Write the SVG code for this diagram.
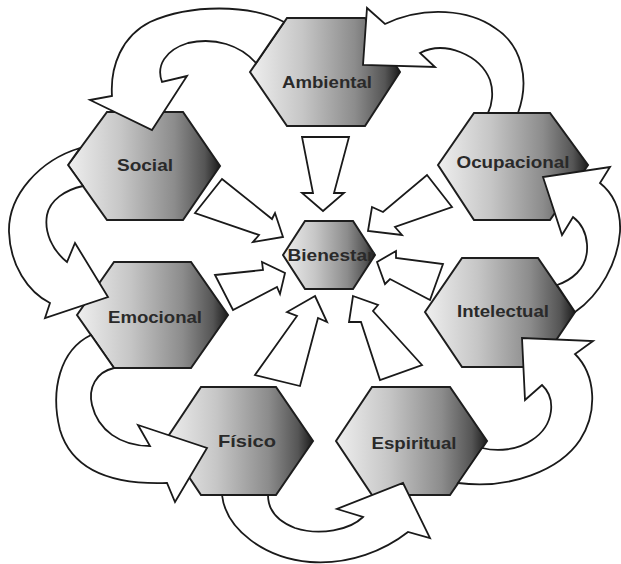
<svg xmlns="http://www.w3.org/2000/svg" width="621" height="564" viewBox="0 0 621 564">
<defs>
<linearGradient id="hexg" x1="0" y1="0" x2="1" y2="0">
<stop offset="0" stop-color="#efefef"/>
<stop offset="0.35" stop-color="#c6c6c6"/>
<stop offset="0.7" stop-color="#8c8c8c"/>
<stop offset="0.9" stop-color="#555555"/>
<stop offset="1" stop-color="#1c1c1c"/>
</linearGradient>
<style>
.hex{fill:url(#hexg);stroke:#1e1e1e;stroke-width:2;stroke-linejoin:miter}
.lbl{font-family:"Liberation Sans",Arial,sans-serif;font-weight:bold;font-size:16.5px;fill:#2a2a2a;text-anchor:middle}
.arr{fill:#ffffff;stroke:#1a1a1a;stroke-width:1.8;stroke-linejoin:miter}
</style>
</defs>
<rect width="621" height="564" fill="#ffffff"/>
<g id="ambiental"><polygon class="hex" points="250,72 287,18 365,18 400,72 365,126 287,126"/><text class="lbl" x="327" y="88" textLength="90" lengthAdjust="spacingAndGlyphs">Ambiental</text></g>
<g id="social"><polygon class="hex" points="68,165 107,112 183,112 220,166 183,220 107,220"/><text class="lbl" x="145" y="171" textLength="56" lengthAdjust="spacingAndGlyphs">Social</text></g>
<g id="emocional"><polygon class="hex" points="77,315 114,262 191,262 228,315 191,368 114,368"/><text class="lbl" x="155" y="323" textLength="94" lengthAdjust="spacingAndGlyphs">Emocional</text></g>
<g id="fisico"><polygon class="hex" points="165,441 201,387 276,387 313,441 276,495 201,495"/><text class="lbl" x="247" y="447" textLength="58" lengthAdjust="spacingAndGlyphs">Físico</text></g>
<g id="espiritual"><polygon class="hex" points="336,441 372,387 450,387 487,441 450,495 372,495"/><text class="lbl" x="414" y="449" textLength="85" lengthAdjust="spacingAndGlyphs">Espiritual</text></g>
<g id="intelectual"><polygon class="hex" points="425,312 462,258 538,258 575,312 538,367 462,367"/><text class="lbl" x="503" y="317" textLength="92" lengthAdjust="spacingAndGlyphs">Intelectual</text></g>
<g id="ocupacional"><polygon class="hex" points="438,165 474,113 550,113 588,165 550,220 474,220"/><text class="lbl" x="513" y="168" textLength="113" lengthAdjust="spacingAndGlyphs">Ocupacional</text></g>
<g id="bienestar"><polygon class="hex" points="283,255 305,221 353,221 375,255 353,289 305,289"/><text class="lbl" x="331" y="261" textLength="87" lengthAdjust="spacingAndGlyphs">Bienestar</text></g>
<g id="connectors">
<path class="arr" d="M 284,22 C 250,4 190,4 150,22 C 122,36 110,66 112,96 L 90,100 L 152,130 L 187,76 L 162,82 C 156,66 165,50 188,43 C 215,37 240,45 256,63 Z"/>
<path class="arr" d="M 80,148 C 40,160 8,195 9,232 C 10,265 28,292 50,303 L 45,318 L 108,297 L 75,243 L 67,262 C 52,250 44,232 47,215 C 50,200 65,190 83,186 L 68,165 Z"/>
<path class="arr" d="M 91,335 C 60,350 50,390 60,430 C 72,470 110,485 167,483 L 175,502 L 207,448 L 138,425 L 150,446 C 120,446 98,430 92,405 C 88,388 96,372 114,368 Z"/>
<path class="arr" d="M 222,495 C 226,530 265,558 310,562 C 350,565 385,550 408,532 L 430,538 L 403,483 L 337,509 L 363,517 C 350,530 320,536 295,528 C 277,521 268,510 268,495 Z"/>
<path class="arr" d="M 458,483 C 510,490 560,470 580,440 C 598,412 596,375 575,354 L 593,341 L 522,338 L 525,400 L 542,385 C 556,398 555,425 532,440 C 518,450 498,452 482,448 Z"/>
<path class="arr" d="M 575,312 C 600,295 618,262 620,232 C 621,212 615,195 600,183 L 610,167 L 543,177 L 562,235 L 573,217 C 590,230 592,258 577,273 C 570,280 563,283 557,285 Z"/>
<path class="arr" d="M 518,113 C 530,80 522,45 495,28 C 470,10 425,5 385,24 L 367,8 L 363,65 L 435,67 L 420,53 C 445,40 480,55 490,80 C 494,92 492,105 488,113 Z"/>
<polygon class="arr" points="302,137 349,137 334,193 344,193 323,211 302,193 313,193"/>
<polygon class="arr" points="222,179 272,219 275,213 283,237 253,242 259,235 195,213"/>
<polygon class="arr" points="215,275 263,270 262,262 285,273 280,294 277,287 233,310"/>
<polygon class="arr" points="315,296 327,322 318,318 300,386 255,375 297,316 287,312"/>
<polygon class="arr" points="353,296 378,305 373,311 422,365 380,380 361,322 349,322"/>
<polygon class="arr" points="377,262 396,251 396,258 443,264 430,300 390,279 385,284"/>
<polygon class="arr" points="368,231 372,207 383,212 427,175 452,207 395,227 402,235"/>
</g>
</svg>
